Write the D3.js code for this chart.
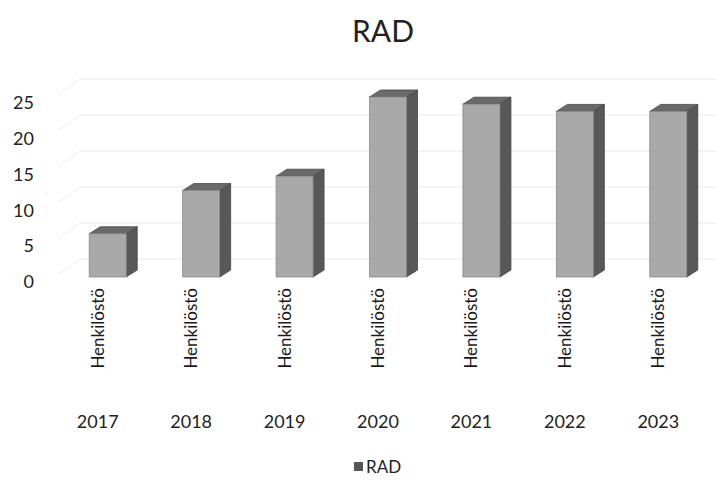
<!DOCTYPE html>
<html><head><meta charset="utf-8">
<script src="https://cdn.jsdelivr.net/npm/d3@7"></script>
<style>body{margin:0;background:#fff}</style>
</head><body><svg id="c" width="726" height="482"></svg>
<script>
const years = ["2017","2018","2019","2020","2021","2022","2023"];
const category = "Henkilöstö";
const seriesName = "RAD";
const values = [6, 12, 14, 25, 24, 23, 23];
const yTicks = [0, 5, 10, 15, 20, 25];

const svg = d3.select("#c");
const font = "Lato, 'Open Sans', sans-serif";
const x = d3.scaleBand().domain(years).range([51, 705]).padding(0);
const yBar = d3.scaleLinear().domain([0, 25]).range([277, 97]);
const yLab = d3.scaleLinear().domain([0, 25]).range([282, 103]);
const dx = 11, dy = -7, bw = 37, shift = 10;

const grid = svg.append("g");
yTicks.forEach(t => {
  const gy = yBar(t) - 18;
  grid.append("line").attr("x1", 80).attr("x2", 716).attr("y1", gy).attr("y2", gy)
    .attr("stroke", "#e8e8e8").attr("stroke-width", 1.2);
  grid.append("line").attr("x1", 57).attr("x2", 80).attr("y1", gy + 16).attr("y2", gy)
    .attr("stroke", "#f0f0f0").attr("stroke-width", 1);
});

const yAxis = d3.axisLeft(yLab).tickValues(yTicks).tickSize(0).tickPadding(0);
const ga = svg.append("g").attr("transform", "translate(34,0)").call(yAxis);
ga.select(".domain").remove();
ga.selectAll("text").attr("font-family", font).attr("font-size", 18).attr("fill", "#222");

const bars = svg.append("g");
years.forEach((yr, i) => {
  const v = values[i];
  const x0 = x(yr) + x.bandwidth() / 2 + shift - bw / 2;
  const x1 = x0 + bw;
  const yt = yBar(v), yb = yBar(0);
  bars.append("path").attr("d", `M${x1},${yt}L${x1+dx},${yt+dy}L${x1+dx},${yb+dy}L${x1},${yb}Z`)
    .attr("fill", "#585858").attr("stroke", "#444").attr("stroke-width", 0.8);
  bars.append("path").attr("d", `M${x0},${yt}L${x0+dx},${yt+dy}L${x1+dx},${yt+dy}L${x1},${yt}Z`)
    .attr("fill", "#6a6a6a").attr("stroke", "#444").attr("stroke-width", 0.8);
  bars.append("rect").attr("x", x0).attr("y", yt).attr("width", bw).attr("height", yb - yt)
    .attr("fill", "#a9a9a9").attr("stroke", "#8a8a8a").attr("stroke-width", 0.8);
});

const cl = svg.append("g");
years.forEach(yr => {
  const cx = x(yr) + x.bandwidth() / 2;
  cl.append("text").attr("transform", `translate(${cx},288) rotate(-90)`)
    .attr("text-anchor", "end").attr("dy", "0.35em")
    .attr("font-family", font).attr("font-size", 17).attr("fill", "#1a1a1a").text(category);
  cl.append("text").attr("x", cx).attr("y", 428).attr("text-anchor", "middle")
    .attr("font-family", font).attr("font-size", 18).attr("fill", "#222").text(yr);
});

svg.append("text").attr("x", 383).attr("y", 42).attr("text-anchor", "middle")
  .attr("font-family", font).attr("font-size", 30).attr("fill", "#222").text(seriesName);

svg.append("rect").attr("x", 354).attr("y", 462).attr("width", 9).attr("height", 9).attr("fill", "#555");
svg.append("text").attr("x", 366).attr("y", 473).attr("font-family", font).attr("font-size", 17)
  .attr("fill", "#222").text(seriesName);
</script></body></html>
